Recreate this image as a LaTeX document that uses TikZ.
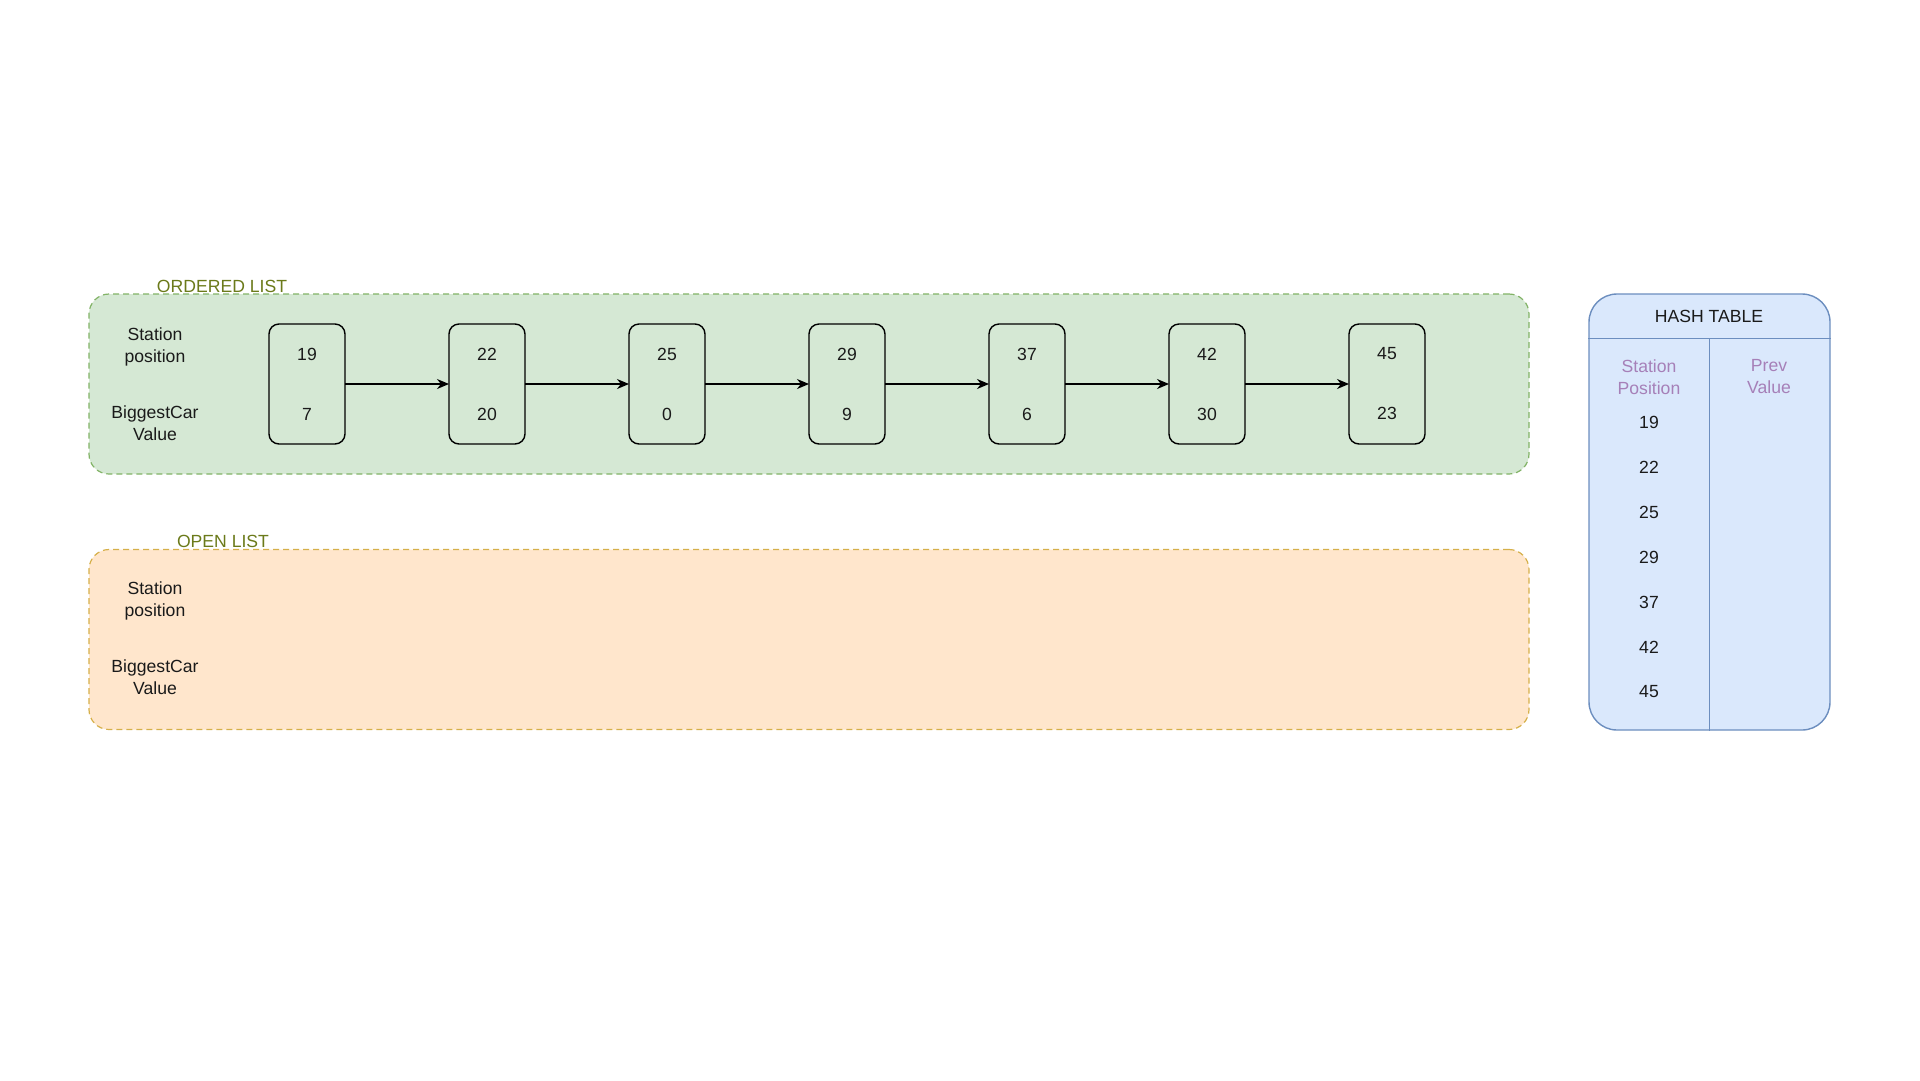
\documentclass[tikz,border=0pt]{standalone}
\usepackage{fontspec}
\setmainfont{Liberation Sans}
\usetikzlibrary{arrows.meta, positioning, calc}

\definecolor{greenfill}{HTML}{D5E8D4}
\definecolor{greenline}{HTML}{82B366}
\definecolor{orangefill}{HTML}{FFE6CC}
\definecolor{orangeline}{HTML}{D6B04A}
\definecolor{bluefill}{HTML}{DAE8FC}
\definecolor{blueline}{HTML}{6C8EBF}
\definecolor{titletext}{HTML}{6B7A1A}
\definecolor{headtext}{HTML}{A680B8}
\definecolor{txt}{HTML}{1A1A1A}

\begin{document}
\begin{tikzpicture}[
                                        x=1pt, y=-1pt,
                                        ->,
                                        >={Stealth[length=12pt, width=10pt]},
                                        node distance=104pt,
                                        every node/.style={font=\fontsize{17.6}{22}\selectfont, text=txt, align=center},
                                        listnode/.style={draw=black, line width=1.4pt, rounded corners=10pt, minimum width=76pt, minimum height=120pt, inner sep=0pt, outer sep=0pt},
                                        listbox/.style={dash pattern=on 6pt off 4pt, line width=1.2pt, rounded corners=20pt, minimum width=1440pt, minimum height=180pt},
                                        boxtitle/.style={text=titletext},
                                        colhead/.style={text=headtext},
                                ]
                                \fill[white] (0,0) rectangle (1920,1080);
                                \useasboundingbox (0,0) rectangle (1920,1080);

                                % ordered list
                                \node[listbox, draw=greenline, fill=greenfill] (ordered) at (809,384) {};
                                \node[boxtitle] (orderedtitle) at (222,286) {ORDERED LIST};
                                \node (ostation) at (155,347) {Station\\position};
                                \node (ocar) at (155,423) {BiggestCar\\Value};

                                \node[listnode] (n1) at (307,384) {19\\[38pt]7};
                                \node[listnode, right=of n1] (n2) {22\\[38pt]20};
                                \node[listnode, right=of n2] (n3) {25\\[38pt]0};
                                \node[listnode, right=of n3] (n4) {29\\[38pt]9};
                                \node[listnode, right=of n4] (n5) {37\\[38pt]6};
                                \node[listnode, right=of n5] (n6) {42\\[38pt]30};
                                \node[listnode, right=of n6] (n7) {45\\[38pt]23};

                                \draw[line width=1.3pt] (n1) -- (n2);
                                \draw[line width=1.3pt] (n2) -- (n3);
                                \draw[line width=1.3pt] (n3) -- (n4);
                                \draw[line width=1.3pt] (n4) -- (n5);
                                \draw[line width=1.3pt] (n5) -- (n6);
                                \draw[line width=1.3pt] (n6) -- (n7);

                                % open list
                                \node[listbox, draw=orangeline, fill=orangefill] (open) at (809,639.5) {};
                                \node[boxtitle] (opentitle) at (223,541) {OPEN LIST};
                                \node (pstation) at (155,601) {Station\\position};
                                \node (pcar) at (155,677) {BiggestCar\\Value};

                                % hash table
                                \node[draw=blueline, fill=bluefill, line width=1.4pt, rounded corners=28pt, minimum width=241pt, minimum height=436pt] (hash) at (1709.5,512) {};
                                \coordinate (headline) at ($(hash.north)+(0,45)$);
                                \draw[-, draw=blueline, line width=1.4pt] (hash.west |- headline) -- (hash.east |- headline);
                                \draw[-, draw=blueline, line width=1.4pt] (headline) -- (hash.south);
                                \node (hashtitle) at (1709,316) {HASH TABLE};
                                \node[colhead] (keyhead) at (1649,377) {Station\\Position};
                                \node[colhead] (valhead) at (1769,377) {Prev\\Value};
                                \foreach \k [count=\i from 0] in {19,22,25,29,37,42,45}
                                        \node (h\k) at (1649,422+45*\i) {\k};
                        \end{tikzpicture}
\end{document}
